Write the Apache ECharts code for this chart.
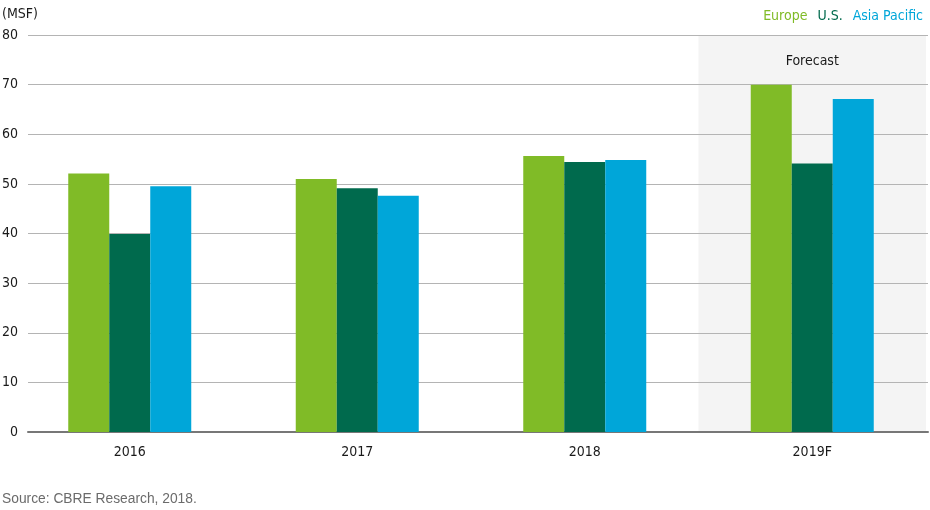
<!DOCTYPE html>
<html>
<head>
<meta charset="utf-8">
<script src="https://cdn.jsdelivr.net/npm/echarts@6/dist/echarts.min.js"></script>
<style>
html,body{margin:0;padding:0;background:#fff;}
#c{width:930px;height:510px;}
</style>
</head>
<body>
<div id="c"></div>
<script>
const categories = ['2016', '2017', '2018', '2019F'];
const europe = [52.1, 51.0, 55.6, 70.0];
const us = [39.9, 49.1, 54.4, 54.1];
const asiaPacific = [49.5, 47.6, 54.8, 67.1];
const seriesNames = ['Europe', 'U.S.', 'Asia Pacific'];
const seriesColors = ['#80BB27', '#006A4D', '#00A6D9'];
const yMin = 0, yMax = 80, yInterval = 10;
const forecastCategory = '2019F';
const forecastLabel = 'Forecast';
const sourceText = 'Source: CBRE Research, 2018.';
const unitLabel = '(MSF)';

const narrow = "'Liberation Sans Narrow', 'DejaVu Sans Condensed', 'Arial Narrow', sans-serif";

const chart = echarts.init(document.getElementById('c'), null, {renderer: 'canvas'});
const values = [europe, us, asiaPacific];

chart.setOption({
  animation: false,
  backgroundColor: '#ffffff',
  textStyle: {fontFamily: narrow},
  legend: {
    right: 2, top: 4,
    itemWidth: 0, itemHeight: 0, itemGap: 10,
    selectedMode: false,
    data: seriesNames.map((n, i) => ({name: n, icon: 'rect', textStyle: {color: seriesColors[i]}})),
    textStyle: {fontFamily: narrow, fontSize: 14, padding: [0, 0, 0, -5]}
  },
  graphic: [{
    type: 'text', left: 2, top: 492,
    style: {text: sourceText, fill: '#6b6b6b', font: "13.8px 'Liberation Sans', sans-serif"}
  }],
  grid: [
    {left: 16, right: 4, top: 35, bottom: 78, outerBoundsMode: 'none', containLabel: false},
    {left: 28, right: 2, top: 35, bottom: 78, outerBoundsMode: 'none', containLabel: false}
  ],
  xAxis: [
    {
      gridIndex: 0, type: 'category', data: categories,
      axisLine: {show: false}, axisTick: {show: false},
      axisLabel: {color: '#1a1a1a', fontSize: 14, margin: 13, fontFamily: narrow}
    },
    {
      gridIndex: 1, type: 'category', data: categories, z: 1.5,
      axisLine: {show: true, lineStyle: {color: '#777777', width: 2}},
      axisTick: {show: false}, axisLabel: {show: false}
    }
  ],
  yAxis: [
    {gridIndex: 0, type: 'value', min: yMin, max: yMax, interval: yInterval, show: false},
    {
      gridIndex: 1, type: 'value', min: yMin, max: yMax, interval: yInterval, z: 1.5,
      name: unitLabel, nameLocation: 'end', nameGap: 14,
      nameTextStyle: {color: '#1a1a1a', fontSize: 14, align: 'left', padding: [0, 0, 0, -26], fontFamily: narrow},
      axisLine: {show: false}, axisTick: {show: false},
      axisLabel: {color: '#1a1a1a', fontSize: 14, margin: 10, fontFamily: narrow},
      splitLine: {lineStyle: {color: '#b4b4b4', width: 1}}
    }
  ],
  series: seriesNames.map((n, i) => {
    const s = {
      name: n, type: 'bar', xAxisIndex: 0, yAxisIndex: 0,
      data: values[i], barWidth: 41, barGap: '0%',
      itemStyle: {color: seriesColors[i]},
      emphasis: {disabled: true}
    };
    if (i === 0) {
      s.markArea = {
        silent: true,
        z: 1,
        itemStyle: {color: '#F4F4F4'},
        label: {show: true, position: 'insideTop', distance: 19, color: '#1a1a1a', fontSize: 14, fontFamily: narrow},
        data: [[{name: forecastLabel, xAxis: forecastCategory, yAxis: yMax}, {xAxis: forecastCategory, yAxis: yMin}]]
      };
    }
    return s;
  })
});
</script>
</body>
</html>
